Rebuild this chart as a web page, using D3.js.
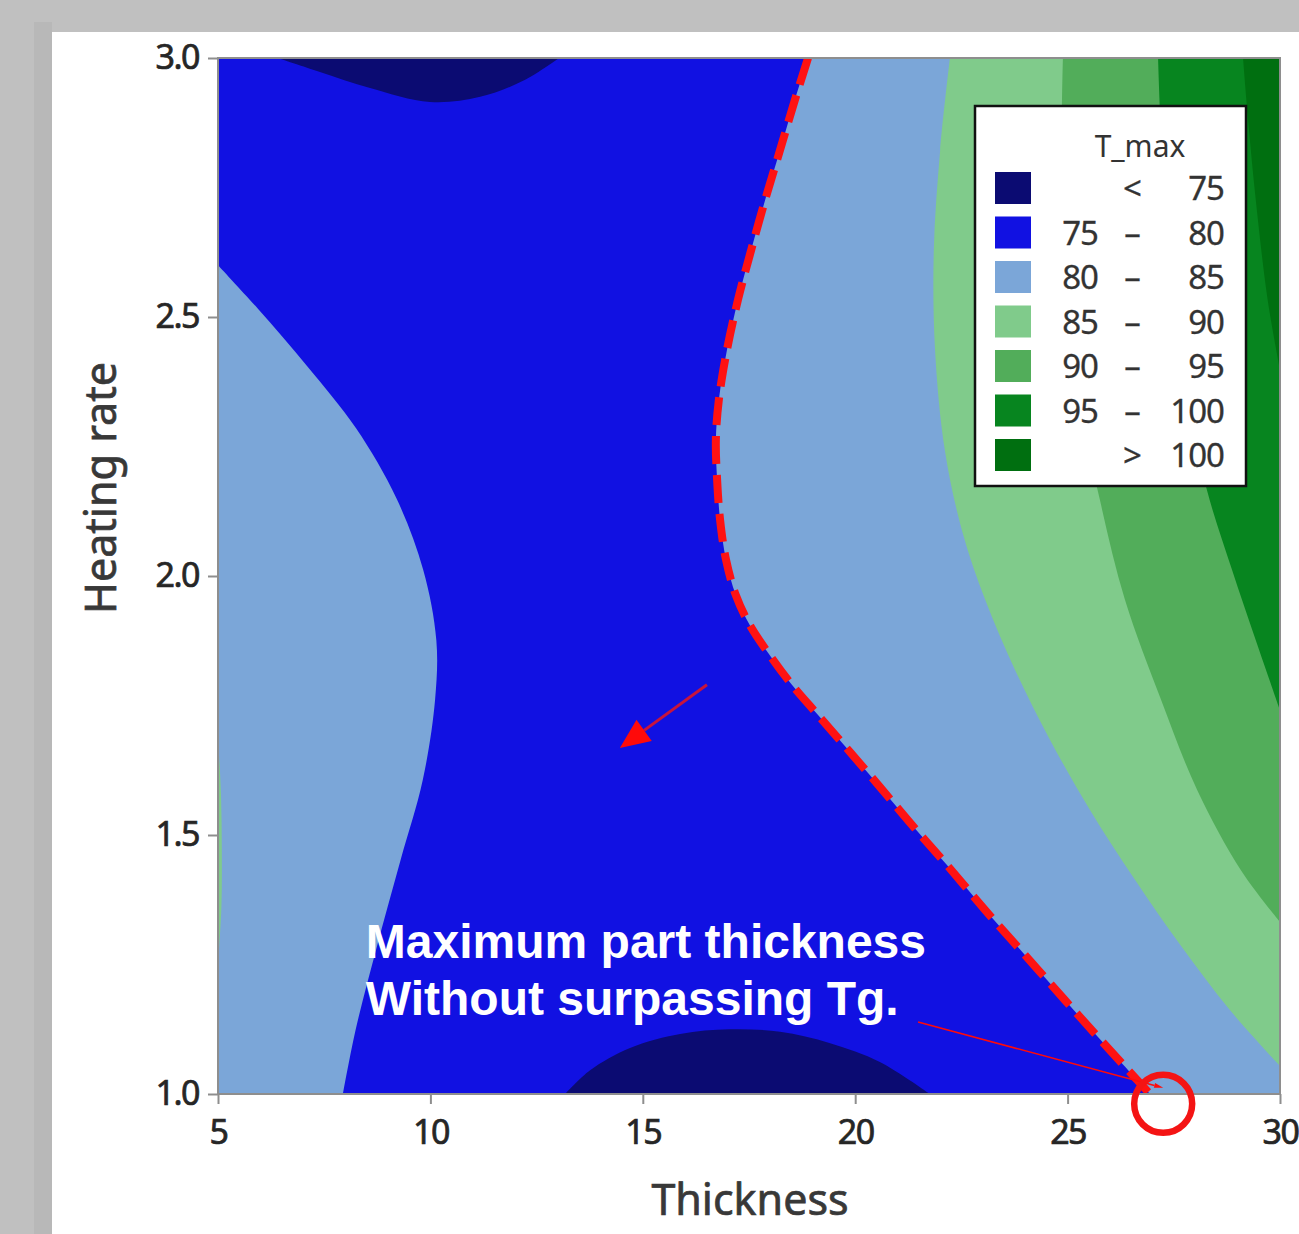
<!DOCTYPE html>
<html lang="en">
<head>
<meta charset="UTF-8">
<title>T_max contour - Thickness vs Heating rate</title>
<script src="https://d3js.org/d3.v7.min.js"></script>
<style>
  body { margin: 0; background: #c0c0c0; }
  svg { display: block; }
</style>
</head>
<body>
<script>
// axis ticks
const xTicks = [5, 10, 15, 20, 25, 30];
const yTicks = [1.0, 1.5, 2.0, 2.5, 3.0];

// legend
const legendLow  = ["", "75", "80", "85", "90", "95", ""];
const legendSep  = ["<", "–", "–", "–", "–", "–", ">"];
const legendHigh = ["75", "80", "85", "90", "95", "100", "100"];
const bandColors = ["#0b0b72", "#1111e2", "#7ba6d8", "#80cb8b", "#52ad5a", "#07851f", "#006f10"];

// contour boundaries, [thickness, heating rate]
// left edge of the 75-80 band (light blue on the left)
const blueLeft = [[5.00, 2.600], [5.95, 2.515], [7.10, 2.405], [8.25, 2.285], [9.20, 2.150],
  [9.83, 2.012], [10.14, 1.876], [10.11, 1.761], [9.82, 1.606], [9.30, 1.452],
  [8.72, 1.278], [8.24, 1.124], [7.94, 1.000]];
// right edge of the 75-80 band (the dashed Tg line)
const blueRight = [[18.89, 3.000], [18.58, 2.919], [18.23, 2.822], [17.88, 2.726], [17.52, 2.620],
  [17.24, 2.533], [16.98, 2.436], [16.79, 2.340], [16.72, 2.263], [16.75, 2.185],
  [16.82, 2.108], [16.96, 2.031], [17.19, 1.963], [17.52, 1.905], [17.99, 1.847],
  [18.51, 1.790], [19.12, 1.732], [19.88, 1.660], [20.58, 1.593], [21.34, 1.519],
  [22.16, 1.442], [23.06, 1.355], [24.00, 1.268], [24.94, 1.181], [25.88, 1.095],
  [26.94, 1.000]];
// < 75 pockets
const navyTop = [[6.41, 3.000], [7.40, 2.973], [8.58, 2.942], [9.99, 2.915], [11.17, 2.925],
  [12.23, 2.958], [13.03, 3.000]];
const navyBottom = [[13.17, 1.000], [13.76, 1.046], [14.70, 1.089], [15.88, 1.116], [17.05, 1.125],
  [18.23, 1.120], [19.41, 1.098], [20.58, 1.062], [21.76, 1.000]];
// thin 85-90 sliver on the left edge
const greenLeft = [[5.00, 1.690], [5.07, 1.580], [5.09, 1.470], [5.08, 1.360], [5.00, 1.250]];
// right-hand levels
const level85 = [[22.23, 3.000], [22.00, 2.822], [21.85, 2.629], [21.88, 2.436], [22.11, 2.243],
  [22.51, 2.089], [23.06, 1.954], [23.76, 1.819], [24.59, 1.683], [25.53, 1.548],
  [26.59, 1.413], [27.65, 1.288], [28.82, 1.162], [30.00, 1.054]];
const level90 = [[24.89, 3.000], [24.87, 2.822], [25.01, 2.629], [25.29, 2.340], [25.76, 2.147],
  [26.35, 1.954], [27.20, 1.761], [28.05, 1.587], [29.08, 1.432], [30.00, 1.332]];
const level95 = [[27.13, 3.000], [27.22, 2.822], [27.46, 2.571], [27.83, 2.340], [28.28, 2.166],
  [28.87, 2.012], [29.43, 1.876], [30.00, 1.741]];
const level100 = [[29.13, 3.000], [29.25, 2.880], [29.43, 2.726], [29.71, 2.533], [30.00, 2.398]];

// annotations
const noteLines = ["Maximum part thickness", "Without surpassing Tg."];
const notePos = [8.48, 1.262];
const arrowMid = [[16.51, 1.790], [14.46, 1.668]];
const arrowNote = [[21.48, 1.139], [27.25, 1.012]];
const maxPoint = [27.25, 0.981];

const W = 1299, H = 1234;
const svg = d3.select("body").append("svg")
    .attr("width", W)
    .attr("height", H);

// grey slide background with white panel
svg.append("rect").attr("width", W).attr("height", H).attr("fill", "#c0c0c0");
svg.append("rect").attr("x", 34).attr("y", 22).attr("width", 18).attr("height", H - 22).attr("fill", "#b8b8b8");
svg.append("rect").attr("x", 52).attr("y", 32).attr("width", W - 52).attr("height", H - 32).attr("fill", "#ffffff");

const x = d3.scaleLinear().domain([5, 30]).range([218, 1280]);
const y = d3.scaleLinear().domain([1, 3]).range([1094, 58]);

const curve = d3.line()
    .x(d => x(d[0]))
    .y(d => y(d[1]))
    .curve(d3.curveCatmullRom.alpha(0.5));
// same curve but continuing an existing path
const seg = pts => curve(pts).replace(/^M/, "L");

svg.append("clipPath").attr("id", "plot")
  .append("rect")
    .attr("x", x(5)).attr("y", y(3))
    .attr("width", x(30) - x(5)).attr("height", y(1) - y(3));

const g = svg.append("g").attr("clip-path", "url(#plot)");

// 80-85 fills the background
g.append("rect")
    .attr("x", x(5)).attr("y", y(3))
    .attr("width", x(30) - x(5)).attr("height", y(1) - y(3))
    .attr("fill", bandColors[2]);

g.append("path").attr("d", curve(greenLeft) + "Z").attr("fill", bandColors[3]);

// 75-80 band
const bluePath = "M" + x(5) + "," + y(3) + seg(blueRight) + seg(blueLeft.slice().reverse()) + "Z";
g.append("path").attr("d", bluePath).attr("fill", bandColors[1]);

g.append("path").attr("d", curve(navyTop) + "Z").attr("fill", bandColors[0]);
g.append("path").attr("d", curve(navyBottom) + "Z").attr("fill", bandColors[0]);

// green levels, each region lies right of its curve
[level85, level90, level95, level100].forEach((pts, i) => {
  g.append("path")
      .attr("d", curve(pts) + "L" + x(30) + "," + y(3) + "Z")
      .attr("fill", bandColors[3 + i]);
});

// dashed Tg line
g.append("path")
    .attr("d", curve(blueRight))
    .attr("fill", "none")
    .attr("stroke", "#ff1212")
    .attr("stroke-width", 8)
    .attr("stroke-dasharray", "28,11");

// frame
svg.append("rect")
    .attr("x", x(5)).attr("y", y(3))
    .attr("width", x(30) - x(5)).attr("height", y(1) - y(3))
    .attr("fill", "none")
    .attr("stroke", "#8e8e8e")
    .attr("stroke-width", 2);

// axes
const tickFont = g => g.selectAll("text")
    .attr("font-family", "Noto Sans, sans-serif")
    .attr("font-size", 34)
    .attr("letter-spacing", -1.5)
    .attr("fill", "#262626")
    .attr("stroke", "#262626")
    .attr("stroke-width", 0.7);

const xAxis = svg.append("g")
    .attr("transform", `translate(0,${y(1)})`)
    .call(d3.axisBottom(x).tickValues(xTicks).tickSize(10).tickPadding(16))
    .call(tickFont);
xAxis.select(".domain").remove();
xAxis.selectAll("line").attr("stroke", "#8e8e8e").attr("stroke-width", 2);

const yAxis = svg.append("g")
    .attr("transform", `translate(${x(5)},0)`)
    .call(d3.axisLeft(y).tickValues(yTicks).tickFormat(d3.format(".1f")).tickSize(10).tickPadding(9))
    .call(tickFont);
yAxis.select(".domain").remove();
yAxis.selectAll("line").attr("stroke", "#8e8e8e").attr("stroke-width", 2);

svg.append("text")
    .attr("x", (x(5) + x(30)) / 2 + 1)
    .attr("y", 1215)
    .attr("text-anchor", "middle")
    .attr("font-family", "Noto Sans, sans-serif")
    .attr("font-size", 43)
    .attr("fill", "#383838")
    .attr("stroke", "#383838")
    .attr("stroke-width", 0.7)
    .text("Thickness");

svg.append("text")
    .attr("transform", `translate(116,${(y(1) + y(3)) / 2 - 88}) rotate(-90)`)
    .attr("text-anchor", "middle")
    .attr("font-family", "Noto Sans, sans-serif")
    .attr("font-size", 43)
    .attr("fill", "#383838")
    .attr("stroke", "#383838")
    .attr("stroke-width", 0.7)
    .text("Heating rate");

// legend
const lg = svg.append("g");
lg.append("rect")
    .attr("x", 975).attr("y", 106)
    .attr("width", 271).attr("height", 380)
    .attr("fill", "#ffffff")
    .attr("stroke", "#111111")
    .attr("stroke-width", 2.5);
lg.append("text")
    .attr("x", 1140).attr("y", 157)
    .attr("text-anchor", "middle")
    .attr("font-family", "Noto Sans, sans-serif")
    .attr("font-size", 30)
    .attr("fill", "#333")
    .text("T_max");

const rows = lg.selectAll("g.row").data(bandColors).join("g")
    .attr("class", "row")
    .attr("transform", (d, i) => `translate(0,${188 + i * 44.5})`);
rows.append("rect")
    .attr("x", 995).attr("y", -16)
    .attr("width", 36).attr("height", 32)
    .attr("fill", d => d);
const legendText = (sel, xPos, anchor, arr) => sel.append("text")
    .attr("x", xPos).attr("y", 12)
    .attr("text-anchor", anchor)
    .attr("font-family", "Noto Sans, sans-serif")
    .attr("font-size", 33)
    .attr("letter-spacing", -1)
    .attr("fill", "#333")
    .attr("stroke", "#333")
    .attr("stroke-width", 0.3)
    .text((d, i) => arr[i]);
legendText(rows, 1098, "end", legendLow);
legendText(rows, 1132, "middle", legendSep);
legendText(rows, 1224, "end", legendHigh);

// annotation text
const note = svg.append("text")
    .attr("font-family", "Liberation Sans, Arial, sans-serif")
    .attr("font-weight", "bold")
    .attr("font-size", 48)
    .attr("fill", "#ffffff");
noteLines.forEach((t, i) => {
  note.append("tspan")
      .attr("x", x(notePos[0]))
      .attr("y", y(notePos[1]) + i * 57)
      .text(t);
});

// arrows
function arrow(pts, headLen, headHalf, lineColor, lineWidth, headColor) {
  const [x0, y0] = [x(pts[0][0]), y(pts[0][1])];
  const [x1, y1] = [x(pts[1][0]), y(pts[1][1])];
  const len = Math.hypot(x1 - x0, y1 - y0);
  const ux = (x1 - x0) / len, uy = (y1 - y0) / len;
  const bx = x1 - ux * headLen, by = y1 - uy * headLen;
  svg.append("line")
      .attr("x1", x0).attr("y1", y0).attr("x2", bx).attr("y2", by)
      .attr("stroke", lineColor).attr("stroke-width", lineWidth);
  svg.append("path")
      .attr("d", `M${x1},${y1}L${bx - uy * headHalf},${by + ux * headHalf}L${bx + uy * headHalf},${by - ux * headHalf}Z`)
      .attr("fill", headColor);
}
arrow(arrowMid, 30, 13, "#c8143c", 3, "#ff0a0a");
arrow(arrowNote, 9, 2.5, "#ff0a0a", 1.6, "#ff0a0a");

svg.append("circle")
    .attr("cx", x(maxPoint[0]))
    .attr("cy", y(maxPoint[1]))
    .attr("r", 29)
    .attr("fill", "none")
    .attr("stroke", "#f41414")
    .attr("stroke-width", 6.5);
</script>
</body>
</html>
